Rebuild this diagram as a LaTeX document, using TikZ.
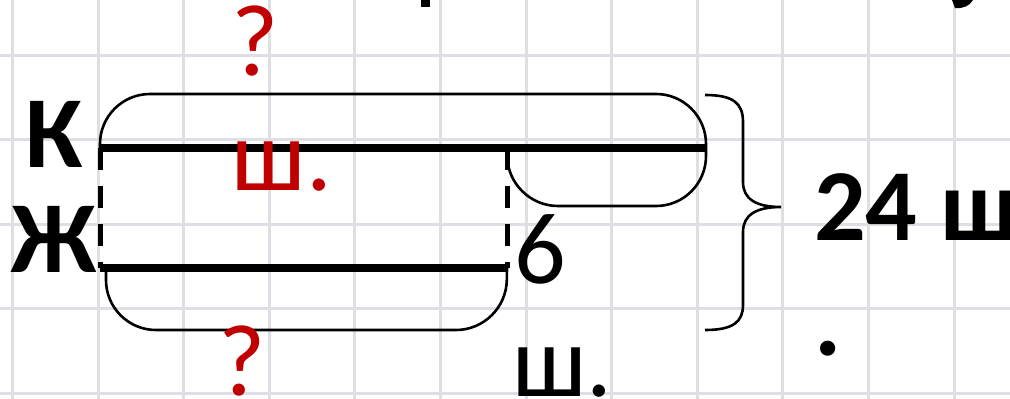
\documentclass[tikz,border=0pt]{standalone}
\usepackage{fontspec}
\setmainfont{Carlito}
\usepackage{tikz}
\usetikzlibrary{calc}
\definecolor{gridcol}{HTML}{DEDEE4}
\definecolor{darkred}{HTML}{C00000}
\tikzset{
 lbl/.style={inner sep=0, font=\fontsize{102}{110}\selectfont},
 lblb/.style={inner sep=0, font=\fontsize{102}{110}\selectfont\bfseries},
 thinln/.style={line width=2.6pt},
 segln/.style={line width=8pt},
 dashln/.style={line width=5pt, dash pattern=on 22pt off 16pt}
}

\begin{document}
\begin{tikzpicture}[x=1pt,y=-1pt]
\useasboundingbox (0,0) rectangle (1010,399);
\fill[white] (0,0) rectangle (1010,399);
\foreach \i in {0,...,11} \draw[gridcol,line width=3pt] ({12.5+85.6*\i},0)--++(0,399);
\foreach \j in {0,...,4} \draw[gridcol,line width=3pt] (0,{55+84.6*\j})--++(1010,0);
\fill[black] (421,0) rectangle (430,7);
\fill[black] (952,0) -- (973,0) .. controls (970,6) and (962,9) .. (955,8) -- cycle;
\coordinate (kL) at (100,148);
\coordinate (kR) at (706,148);
\coordinate (kM) at (507,148);
\coordinate (zL) at (100,268);
\coordinate (zR) at (507,268);
\coordinate (brT) at (705,95);
\coordinate (brB) at (705,330);
\coordinate (brTip) at (781,207);
\draw[dashln] (kL)--(zL);
\draw[dashln] (kM)--(zR);
\draw[segln] (kL)--(kR);
\draw[segln] (zL)--(zR);
\draw[thinln,rounded corners=50pt] (kL) |- (706,94) |- (508,206) -- (kM);
\draw[thinln,rounded corners=50pt] ($(zL)+(6,0)$) |- (506,330) -- (zR);
\draw[thinln] (brT) .. controls (733,95) and (743,103) .. (743,122) -- (743,182) .. controls (743,199) and (756,207) .. (brTip) .. controls (756,207) and (743,215) .. (743,232) -- (743,305) .. controls (743,322) and (733,330) .. (brB);
\node[lblb,anchor=base west] (K) at (25,167) {К};
\node[lblb,anchor=base west] (Zh) at (11,272) {Ж};
\node[lbl,darkred,anchor=base] (q1) at (255,75) {?};
\node[lbl,darkred,anchor=base] (sh1) at (282,190) {ш.};
\node[lbl,darkred,anchor=base] (q2) at (242,395) {?};
\node[lbl,anchor=base west] (six) at (514,283) {6};
\node[lbl,anchor=base west] (sh2) at (512,396) {ш.};
\node[lblb,anchor=base west] (tot) at (814,240) {24 ш};
\node[lblb,anchor=base west] (dot) at (814,355) {.};
\end{tikzpicture}
\end{document}
